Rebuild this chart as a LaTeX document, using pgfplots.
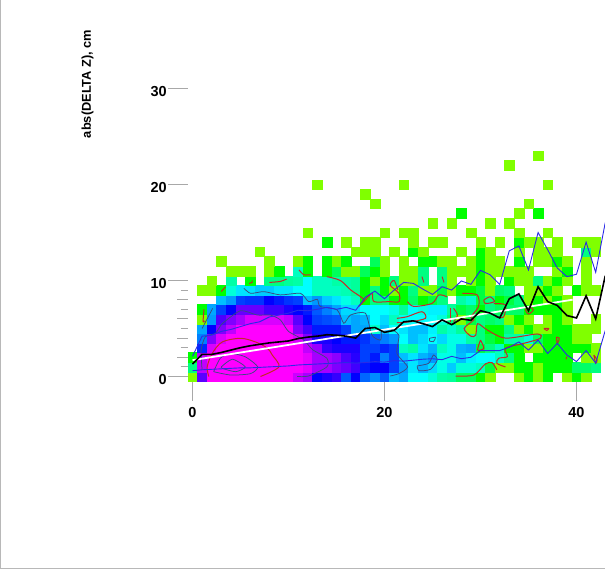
\documentclass[border=0pt]{standalone}
\usepackage{fontspec}
\setmainfont{Liberation Sans}
\usepackage{pgfplots}
\pgfplotsset{compat=1.18}

\definecolor{framegray}{HTML}{B8B8B8}
\definecolor{tickgray}{HTML}{A8A8A8}
\definecolor{contred}{HTML}{C62828}
\definecolor{contdark}{HTML}{3A4A80}
\definecolor{fitblue}{HTML}{2A2AE6}

\pgfplotsset{
  redc/.style={contred,line width=1pt,no marks,smooth,tension=0.5},
  darkc/.style={contdark,line width=0.75pt,no marks,smooth,tension=0.4},
  blueline/.style={fitblue,line width=0.9pt,no marks},
}

\begin{document}
\begin{tikzpicture}[x=1pt,y=1pt]
\path[use as bounding box] (0,0) rectangle (605,569);
\draw[framegray,line width=1pt] (0.5,569) -- (0.5,0.5) -- (605,0.5);
\begin{axis}[
  at={(187.7pt,187.7pt)},anchor=south west,
  scale only axis,width=417.3pt,height=381.3pt,
  xmin=-0.5,xmax=42.97,ymin=-0.5,ymax=39.22,
  clip mode=individual,
  axis x line*=bottom,axis y line*=left,
  axis line style={draw=none},
  tick align=outside,
  xtick={0,20,40},ytick={0,10,20,30},
  minor ytick={1,3,5,7,9},
  extra y ticks={2,4,6,8},extra y tick labels={},
  extra y tick style={major tick length=10.5pt,tick style={tickgray,line width=0.8pt}},
  major tick length=19.3pt,minor tick length=7pt,
  tick style={tickgray,line width=0.8pt},
  /pgf/number format/assume math mode=true,
  tick label style={font=\fontsize{14.5}{15}\selectfont\bfseries},
  yticklabel style={inner sep=1.5pt,yshift=-2.8pt},
  xticklabel style={inner sep=0pt,yshift=-7pt},
  ylabel={abs(DELTA Z), cm},
  every axis y label/.style={at={(axis description cs:-0.24,0.78)},rotate=90,anchor=center,
    font=\fontsize{12.8}{14}\selectfont\bfseries},
  colormap={hue}{rgb255=(128,255,0) rgb255=(0,255,0) rgb255=(0,255,128) rgb255=(0,255,255)
    rgb255=(0,128,255) rgb255=(0,0,255) rgb255=(128,0,255) rgb255=(255,0,255)},
  point meta min=0,point meta max=7,
]
% histogram cells, value = position on the colour scale
\addplot[scatter,only marks,mark=square*,mark size=4.8pt,point meta=explicit,
  scatter/use mapped color={draw=mapped color,fill=mapped color},
  mark options={line width=0.1pt}] coordinates {
(0,0)[0](1,0)[5.7](2,0)[7](3,0)[7](4,0)[7](5,0)[7](6,0)[7](7,0)[7](8,0)[7](9,0)[7](10,0)[7](11,0)[6.6](12,0)[6.3](13,0)[5](14,0)[5.2](15,0)[5.4](16,0)[4.3](17,0)[5](18,0)[4.2](19,0)[3.9](20,0)[4.3](21,0)[3.5](22,0)[3.7](23,0)[3](24,0)[3](25,0)[2.7](26,0)[2.3](27,0)[2.2](28,0)[1.7](29,0)[1.7](30,0)[1](31,0)[0](34,0)[0](35,0)[1](36,0)[0](37,0)[1](39,0)[0](40,0)[1](41,0)[0]
(0,1)[2](1,1)[6.5](2,1)[7](3,1)[7](4,1)[7](5,1)[7](6,1)[7](7,1)[7](8,1)[7](9,1)[7](10,1)[7](11,1)[7](12,1)[6.8](13,1)[6.3](14,1)[6.3](15,1)[6](16,1)[5.8](17,1)[5.5](18,1)[4.8](19,1)[5](20,1)[5](21,1)[4.5](22,1)[3.8](23,1)[3.2](24,1)[3.6](25,1)[3.3](26,1)[2.8](27,1)[3.4](28,1)[2.7](29,1)[2.7](30,1)[2.5](31,1)[1.5](32,1)[0](33,1)[0](34,1)[1](35,1)[1](36,1)[0](37,1)[1](38,1)[1](39,1)[1](40,1)[1.8](41,1)[1.8](42,1)[2](43,1)[1.5]
(0,2)[1](1,2)[6.5](2,2)[7](3,2)[7](4,2)[7](5,2)[7](6,2)[7](7,2)[7](8,2)[7](9,2)[7](10,2)[7](11,2)[7](12,2)[6.8](13,2)[6.3](14,2)[6.3](15,2)[6.1](16,2)[5.6](17,2)[5.3](18,2)[4.5](19,2)[4.8](20,2)[4](21,2)[4.5](22,2)[3.5](23,2)[3.2](24,2)[3.6](25,2)[3.8](26,2)[2.8](27,2)[2.8](28,2)[3.5](29,2)[3.1](30,2)[3](31,2)[3](32,2)[2.5](33,2)[2](34,2)[1](36,2)[1](37,2)[1](38,2)[1](39,2)[1](41,2)[0](42,2)[0]
(1,3)[4.7](2,3)[6.7](3,3)[7](4,3)[7](5,3)[7](6,3)[7](7,3)[7](8,3)[7](9,3)[7](10,3)[7](11,3)[7](12,3)[6.5](13,3)[6.2](14,3)[5.4](15,3)[5.2](16,3)[5.2](17,3)[5.2](18,3)[4.5](19,3)[4.5](20,3)[4.7](21,3)[4.5](22,3)[2.5](23,3)[2.3](24,3)[3.2](25,3)[3.6](26,3)[2.5](27,3)[2.8](28,3)[3.6](29,3)[3.7](30,3)[1.5](31,3)[2](32,3)[2.5](33,3)[1](34,3)[1](35,3)[0](36,3)[0](37,3)[1](38,3)[1](39,3)[1](40,3)[1](41,3)[1](42,3)[0]
(1,4)[4](2,4)[6](3,4)[6.7](4,4)[7](5,4)[7](6,4)[7](7,4)[7](8,4)[7](9,4)[7](10,4)[7](11,4)[6.7](12,4)[6](13,4)[5.2](14,4)[5.2](15,4)[5](16,4)[4.8](17,4)[4.8](18,4)[4.6](19,4)[4.3](20,4)[4](21,4)[3.8](22,4)[3](23,4)[3.5](24,4)[3.3](25,4)[3](26,4)[3.3](27,4)[2.8](28,4)[2.8](29,4)[2.3](30,4)[2](31,4)[1.5](32,4)[1](33,4)[2.3](34,4)[2.3](35,4)[2.7](36,4)[1.7](37,4)[1](38,4)[1](39,4)[1](40,4)[0](41,4)[0]
(1,5)[3.7](2,5)[5](3,5)[6](4,5)[6.5](5,5)[7](6,5)[7](7,5)[7](8,5)[7](9,5)[7](10,5)[7](11,5)[6](12,5)[5.5](13,5)[4.8](14,5)[4.8](15,5)[4.8](16,5)[4.5](17,5)[3.7](18,5)[3.7](19,5)[2.6](20,5)[3.5](21,5)[3](22,5)[3.2](23,5)[3.5](24,5)[3.5](25,5)[3.1](26,5)[2.3](27,5)[2.6](28,5)[2.2](29,5)[0](30,5)[2](31,5)[1](32,5)[1](33,5)[2](34,5)[0](35,5)[1](36,5)[0](37,5)[0](38,5)[1](39,5)[1](40,5)[0](41,5)[0](42,5)[0]
(1,6)[0](2,6)[3.8](3,6)[5.6](4,6)[6](5,6)[6.3](6,6)[6.7](7,6)[6.7](8,6)[6.7](9,6)[6.7](10,6)[6.5](11,6)[5.7](12,6)[5](13,6)[4.5](14,6)[4.4](15,6)[4.3](16,6)[3.5](17,6)[3.7](18,6)[3.6](19,6)[3](20,6)[3.3](21,6)[2.5](22,6)[2.9](23,6)[3](24,6)[3](25,6)[3](26,6)[2.7](27,6)[1.9](28,6)[0](29,6)[1.5](30,6)[2](31,6)[1.8](32,6)[2](33,6)[0](34,6)[1](35,6)[0](37,6)[0](38,6)[1](39,6)[0](42,6)[0]
(1,7)[1](2,7)[3.7](3,7)[4.5](4,7)[5](5,7)[5.8](6,7)[5.8](7,7)[5.8](8,7)[5.5](9,7)[5.5](10,7)[5.2](11,7)[5](12,7)[4.8](13,7)[4.3](14,7)[4](15,7)[3.7](16,7)[3.3](17,7)[3.3](18,7)[3](19,7)[3](20,7)[3](21,7)[2.8](22,7)[2.2](23,7)[3](24,7)[2.8](25,7)[3.1](26,7)[3.1](27,7)[2.2](28,7)[1.5](29,7)[1.8](30,7)[1](31,7)[2](32,7)[1.7](33,7)[1.8](34,7)[1.8](35,7)[1](36,7)[1](37,7)[1](38,7)[1](39,7)[0]
(3,8)[3.5](4,8)[3.8](5,8)[4.5](6,8)[4.6](7,8)[4.6](8,8)[5](9,8)[4.8](10,8)[4.6](11,8)[4.5](12,8)[3.5](13,8)[3.8](14,8)[3.4](15,8)[3.2](16,8)[2.8](17,8)[2.5](18,8)[1](19,8)[2](20,8)[2](21,8)[1](22,8)[1](23,8)[1.8](24,8)[1](25,8)[1.5](26,8)[2](28,8)[2.3](29,8)[2.6](30,8)[1.5](31,8)[2](32,8)[1](33,8)[1.5](34,8)[2](35,8)[0](36,8)[1](37,8)[0](38,8)[1](39,8)[0]
(1,9)[0](2,9)[0](3,9)[1](4,9)[2.7](5,9)[3.2](6,9)[3.2](7,9)[3.4](8,9)[3.4](9,9)[3.2](10,9)[3.2](11,9)[3](12,9)[3](13,9)[2.5](14,9)[2.5](15,9)[2.5](16,9)[2.4](17,9)[2.2](18,9)[1](19,9)[2](20,9)[1](21,9)[0](22,9)[1](23,9)[2](24,9)[0](25,9)[0](26,9)[1.5](27,9)[0](28,9)[1](29,9)[1](30,9)[1.5](31,9)[0](32,9)[1.8](33,9)[2](35,9)[0](36,9)[0](37,9)[1](38,9)[0](40,9)[1](41,9)[0](42,9)[0](43,9)[0]
(2,10)[0](4,10)[2.3](6,10)[1](8,10)[2](9,10)[2](10,10)[2.2](11,10)[2.3](12,10)[3](13,10)[2.5](14,10)[2.5](15,10)[2.3](16,10)[2.3](17,10)[2.2](18,10)[1](19,10)[0](20,10)[1](21,10)[2](22,10)[0](23,10)[0](24,10)[2](26,10)[2](27,10)[0](29,10)[0](30,10)[1](31,10)[0](33,10)[1](34,10)[0](35,10)[0](36,10)[2](37,10)[0](38,10)[1](39,10)[0](41,10)[0]
(4,11)[0](5,11)[0](6,11)[0](8,11)[0](9,11)[1](11,11)[2.5](12,11)[1](14,11)[1](15,11)[1.7](16,11)[0](17,11)[0](18,11)[1.7](19,11)[1](20,11)[0](22,11)[0](23,11)[0](24,11)[2](26,11)[2](27,11)[0](28,11)[0](29,11)[0](30,11)[1](31,11)[0](32,11)[0](33,11)[0](34,11)[0](35,11)[0](38,11)[0](39,11)[1](41,11)[0]
(3,12)[0](8,12)[0](11,12)[0](12,12)[1](14,12)[1](15,12)[0](16,12)[1](19,12)[1.7](20,12)[0](22,12)[0](24,12)[1](25,12)[1](26,12)[0](27,12)[0](29,12)[0](30,12)[1](31,12)[0](32,12)[0](34,12)[1](36,12)[0](37,12)[0](38,12)[1](39,12)[0](41,12)[0]
(7,13)[0](17,13)[0](18,13)[0](19,13)[0](21,13)[0](23,13)[1](24,13)[0](28,13)[0](30,13)[1](31,13)[0](34,13)[0](36,13)[0](37,13)[0](38,13)[0](41,13)[2](42,13)[0]
(14,14)[1](16,14)[0](18,14)[0](19,14)[0](23,14)[0](25,14)[0](26,14)[0](30,14)[0](32,14)[0](34,14)[1](35,14)[0](36,14)[0](38,14)[0](40,14)[0](41,14)[0](42,14)[0]
(12,15)[0](20,15)[0](22,15)[0](23,15)[0](29,15)[0](34,15)[0](37,15)[0]
(25,16)[0](27,16)[0](31,16)[0](33,16)[0](43,16)[0]
(28,17)[1](34,17)[0](36,17)[1]
(19,18)[0](35,18)[0]
(18,19)[0]
(13,20)[0](22,20)[0](37,20)[0]
(33,22)[0]
(36,23)[0]
};
% contours
\addplot[darkc] coordinates {(1.0,0.7)(0.9,2.76)(1.35,4.15)(2.4,4.5)(3.1,5.5)(5,6.85)(6.75,6.4)(8.1,6.4)(9.15,5.9)(10,4.7)(11.6,3.8)(12.5,2.8)(14,1.9)(14,1)(12.1,0.05)(10.9,0)};
\addplot[darkc] coordinates {(2.1,7.1)(1,5)};
\addplot[darkc] coordinates {(5.35,9.2)(6.05,8.66)(7.45,8.84)(9.15,8.5)(11.25,8.66)(12.1,7.8)(13,8.04)(13.3,7.3)(15.07,6.93)(15.76,5.54)(16.45,6.4)(18,6.6)(18.7,4.3)(19.6,3.8)(19.75,4.84)(21,4.84)(21.67,5.36)};
\addplot[darkc] coordinates {(20.6,5)(21.5,4.3)(21.3,2.4)(22.4,1)(21.5,0.3)(20.6,0.05)};
\addplot[darkc] coordinates {(24.7,3.98)(25.3,4.08)(25.1,3.63)(24.7,3.7)(24.7,3.98)};
\addplot[darkc] coordinates {(23.4,1.1)(24.6,1.37)(25.1,2.24)(25.5,1.72)(24.8,0.75)(23.6,0.6)(23.4,1.1)};
\addplot[darkc] coordinates {(2.2,0.5)(2.9,1.9)(3.95,2.4)(5.5,2.05)(6.8,1)(6.05,0.3)(4,0.15)(2.2,0.5)};
\addplot[darkc] coordinates {(3,1)(4.15,1.8)(5.5,1)(4.5,0.5)(3.1,0.85)(3,1)};
\addplot[redc] coordinates {(1.7,0)(1.53,1)(2.05,2.4)(3.1,3.6)(5,3.98)(6.56,3.6)(7.8,2.95)(8.3,2.25)(9,1)(7.08,0)};
\addplot[redc] coordinates {(22.4,7.8)(23.05,7.3)(24.96,7.62)(25.66,8.5)(26.5,8.3)};
\addplot[redc] coordinates {(21.3,6.06)(22.36,6.23)(23.9,6.75)(24.27,6.06)(22.7,5.7)(21.3,5.6)};
\addplot[redc] coordinates {(28.1,8.66)(29.65,8.5)(29.8,7.3)(29,6.2)(29.3,5.9)(28.3,5)(29,4.2)(29.5,4.3)(29.7,5.5)(30.7,4.85)(32.6,4)(35.9,4.43)(36.25,3.98)(34.5,3.45)(32.6,2.94)(32.8,2.07)(31.9,1.9)(31.7,1.37)(32.6,1)};
\addplot[redc] coordinates {(27.4,0.05)(29.3,0.15)(30.5,1.3)(31.2,1.44)(31.7,0.7)};
\addplot[redc] coordinates {(30,3.8)(30.35,2.94)(29.7,2.76)(30,3.8)};
\addplot[redc] coordinates {(34.7,6.93)(35,7.3)(35.5,6.93)(35,6.5)(34.7,6.93)};
\addplot[redc] coordinates {(30.35,7.97)(31,8.3)(31.45,7.8)(30.5,7.6)(30.35,7.97)};
\addplot[redc] coordinates {(31.4,7.6)(32.6,7.45)(32.4,6.2)(31.6,6.2)};
\addplot[redc] coordinates {(26.9,7.1)(26.9,5.7)};
\addplot[redc] coordinates {(27.2,7.1)(27.6,6.4)(27.2,5.7)};
\addplot[redc] coordinates {(23.9,10.4)(24.1,9.8)};
\addplot[redc] coordinates {(26,10.4)(26.2,9.8)};
\addplot[redc] coordinates {(36.6,5)(37.1,5)(36.9,4.8)(36.6,5)};
\addplot[redc] coordinates {(37.9,4.1)(38.2,4)(38,3.45)(37.9,4.1)};
\addplot[redc] coordinates {(39,2.07)(38.9,1.8)};
\addplot[redc] coordinates {(41.8,2.24)(42.15,1.72)(42,1.37)(41.8,2.24)};
\addplot[redc] coordinates {(17.3,7.3)(17.85,8)(16.5,9)(15.4,10)(14,10.4)};
\addplot[redc] coordinates {(17.85,7.8)(18.7,8.66)(18.9,7.8)(20.5,7.8)(21.5,7.8)(21.5,8.66)(20.6,9.5)(21,10)(21.4,9)};
\addplot[redc] coordinates {(11.1,11.1)(11.6,10.6)(12.3,10.6)};
\addplot[redc] coordinates {(8,9.8)(9.15,9.9)(9.8,10.15)};
\addplot[redc] coordinates {(5.9,9.7)(6.2,9.8)(6.2,10)};
\addplot[redc] coordinates {(3,8.85)(3.45,9.35)};
\addplot[redc] coordinates {(1.2,7)(1.1,5.7)(1.25,5.8)};
% mean and spread
\addplot[blueline] coordinates {(0,2.1)(1,4.2)(2,4.3)(3,4.7)(4,4.9)(5,5.2)(6,5.5)(7,5.7)(8,6.2)(9,6.4)(10,6.6)(11,6.9)(12,6.85)(13,7)(14,7.2)(15,7)(16,7.2)(17,6.9)(18,8.25)(19,8.9)(20,8.1)(21,9)(22,9.8)(23,9.7)(24,9.1)(25,8.55)(26,9.35)(27,9)(28,9.95)(29,9.6)(30,11.05)(31,10.6)(32,9.6)(33,13.1)(34,13.6)(35,11.1)(36,15)(37,13.2)(38,11.3)(39,10.4)(40,10.65)(41,14)(42,10.85)(43,16.05)};
\addplot[blueline] coordinates {(0,0.6)(1,0.7)(2,0.75)(3,0.8)(4,0.85)(5,0.9)(6,0.9)(7,0.95)(8,1)(9,1.05)(10,1.1)(11,1.2)(12,1.25)(13,1.3)(14,1.35)(15,1.4)(16,1.45)(17,1.4)(18,1.45)(19,1.55)(20,1.5)(21,1.65)(22,1.6)(23,1.7)(24,1.8)(25,1.85)(26,1.75)(27,2.1)(28,1.85)(29,2)(30,2.7)(31,2.7)(32,2.7)(33,3.05)(34,3.6)(35,2.75)(36,3.8)(37,2.4)(38,3.45)(39,2.25)(40,1.55)(41,2.7)(42,1.4)(43,4.8)};
\addplot[white,line width=1.8pt,no marks] coordinates {(0,1.7)(39.6,8.0)};
\addplot[black,line width=1.6pt,no marks] coordinates {(0,1.3)(1,2.3)(2,2.3)(3,2.5)(4,2.75)(5,3)(6,3.2)(7,3.35)(8,3.5)(9,3.6)(10,3.7)(11,3.95)(12,4.1)(13,4.2)(14,4.35)(15,4.3)(16,4.2)(17,4)(18,5)(19,5.1)(20,4.6)(21,4.8)(22,5.7)(23,5.8)(24,5.5)(25,5.2)(26,5.9)(27,5.4)(28,6)(29,5.85)(30,6.85)(31,6.6)(32,6.1)(33,8.1)(34,8.6)(35,6.85)(36,9.35)(37,7.8)(38,7.4)(39,6.35)(40,6.1)(41,8.4)(42,6)(43,10.5)};
\end{axis}
\end{tikzpicture}
\end{document}
